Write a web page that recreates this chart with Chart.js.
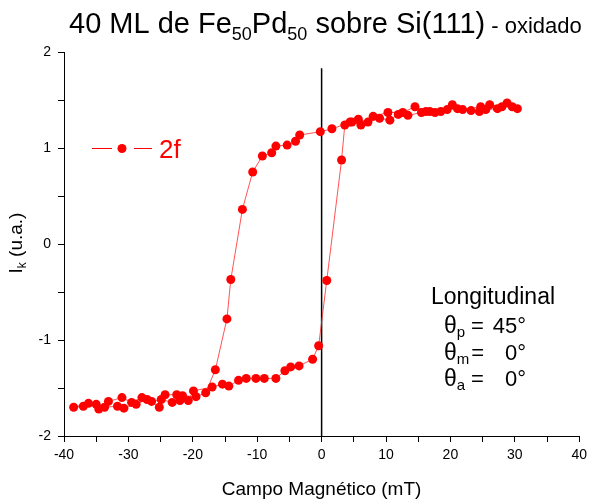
<!DOCTYPE html>
<html>
<head>
<meta charset="utf-8">
<script src="https://cdn.jsdelivr.net/npm/chart.js@4"></script>
<style>
html, body { margin: 0; padding: 0; background: #fff; }
</style>
</head>
<body>
<canvas id="kerrLoop" width="592" height="501"></canvas>
<script>
// ===== Data: MOKE loop, 40 ML Fe50Pd50 / Si(111) oxidado =====
// descending branch (+30 -> -38 mT)
const fieldDown = [30.4, 28.8, 27.3, 25.5, 24.5, 23.2, 21.1, 19.5, 17.6, 16.2, 14.5, 12.6, 10.3, 8.0, 6.1, 4.7, 1.6, -0.2,
    -3.4, -4.05, -5.35, -7.1, -7.75, -9.2, -10.7, -12.3, -14.1, -14.7, -16.5, -18.0, -19.5, -21.6, -22.5, -24.3,
    -25.2, -27.1, -28.8, -30.7, -31.7, -33.7, -35.0, -37.0, -38.5];
const kerrDown = [1.41, 1.47, 1.41, 1.40, 1.38, 1.39, 1.41, 1.40, 1.37, 1.38, 1.43, 1.37, 1.37, 1.33, 1.24, 1.27, 1.20, 1.17,
    1.135, 1.07, 1.03, 1.02, 0.95, 0.917, 0.75, 0.36, -0.37, -0.78, -1.31, -1.55, -1.59, -1.58, -1.57, -1.57,
    -1.70, -1.62, -1.67, -1.71, -1.69, -1.70, -1.67, -1.69, -1.70];
// ascending branch (-38 -> +30 mT)
const fieldUp = [-36.2, -34.6, -33.1, -31.0, -29.5, -27.9, -26.4, -24.9, -23.2, -22.0, -20.7, -19.9, -17.0, -15.4,
    -14.4, -12.9, -11.7, -10.2, -8.9, -7.1, -5.7, -4.8, -3.5, -1.4, -0.46, 0.8, 3.1, 3.6, 4.4, 5.7, 7.2, 9.0, 10.6,
    11.9, 13.4, 15.5, 16.8, 18.5, 20.3, 21.9, 24.7, 26.1, 28.0, 29.6];
const kerrUp = [-1.66, -1.72, -1.64, -1.60, -1.65, -1.60, -1.64, -1.62, -1.65, -1.63, -1.63, -1.53, -1.49, -1.46,
    -1.48, -1.42, -1.40, -1.40, -1.40, -1.40, -1.32, -1.28, -1.27, -1.20, -1.06, -0.38, 0.875, 1.24, 1.27, 1.30, 1.27, 1.31, 1.29,
    1.35, 1.34, 1.37, 1.38, 1.38, 1.45, 1.40, 1.43, 1.45, 1.43, 1.43];
// black vertical marker at H = 0
const zeroLineX = [0, 0];
const zeroLineY = [-2, 1.83];
// labelled (major) ticks
const xMajorTicks = [-40, -30, -20, -10, 0, 10, 20, 30, 40];
const yMajorTicks = [-2, -1, 0, 1, 2];

const RED = '#ff0000';
const FONT = '"Liberation Sans", Arial, sans-serif';

const loopPoints = fieldDown.map((x, i) => ({ x, y: kerrDown[i] }))
    .concat(fieldUp.map((x, i) => ({ x, y: kerrUp[i] })));
const zeroPoints = zeroLineX.map((x, i) => ({ x, y: zeroLineY[i] }));

// draws a run of text pieces, each with its own size and baseline shift
function drawRich(ctx, parts, x, y) {
    parts.forEach(p => {
        ctx.font = p.size + 'px ' + FONT;
        ctx.fillText(p.t, x, y + (p.dy || 0));
        x += ctx.measureText(p.t).width;
    });
    return x;
}

const textLayer = {
    id: 'textLayer',
    afterDraw(chart) {
        const ctx = chart.ctx;
        ctx.save();
        ctx.textAlign = 'left';
        ctx.textBaseline = 'alphabetic';

        // title
        ctx.fillStyle = '#000';
        drawRich(ctx, [
            { t: '40 ML de Fe', size: 29 }, { t: '50', size: 18, dy: 7 },
            { t: 'Pd', size: 29 }, { t: '50', size: 18, dy: 7 },
            { t: ' sobre Si(111)', size: 29 }, { t: ' - oxidado', size: 22 }
        ], 69, 33);

        // y axis title
        ctx.save();
        ctx.translate(22, 242);
        ctx.rotate(-Math.PI / 2);
        ctx.font = '19px ' + FONT;
        const w = ctx.measureText('I (u.a.)').width + 8;
        drawRich(ctx, [{ t: 'I', size: 19 }, { t: 'k', size: 12, dy: 4 }, { t: ' (u.a.)', size: 19 }], -w / 2, 0);
        ctx.restore();

        // legend
        ctx.strokeStyle = RED;
        ctx.lineWidth = 1;
        ctx.beginPath();
        ctx.moveTo(92, 148.5); ctx.lineTo(112, 148.5);
        ctx.moveTo(134, 148.5); ctx.lineTo(152, 148.5);
        ctx.stroke();
        ctx.fillStyle = RED;
        ctx.beginPath();
        ctx.arc(122, 148.5, 4.5, 0, Math.PI * 2);
        ctx.fill();
        ctx.font = '26px ' + FONT;
        ctx.fillText('2f', 159, 158);

        // measurement geometry
        ctx.fillStyle = '#000';
        ctx.font = '23px ' + FONT;
        ctx.fillText('Longitudinal', 431, 304);
        const rows = [['p', '45°', 333], ['m', '0°', 360], ['a', '0°', 386]];
        rows.forEach(([sub, val, by]) => {
            const end = drawRich(ctx, [{ t: 'θ', size: 23 }, { t: sub, size: 15, dy: 4 }], 444, by);
            ctx.font = '22px ' + FONT;
            ctx.fillText('=', Math.max(end + 2, 471), by);
            ctx.textAlign = 'right';
            ctx.fillText(val, 526, by);
            ctx.textAlign = 'left';
        });
        ctx.restore();
    }
};

new Chart(document.getElementById('kerrLoop'), {
    type: 'scatter',
    data: {
        datasets: [{
            label: '2f',
            data: loopPoints,
            showLine: true,
            borderColor: 'rgba(255,40,40,0.8)',
            borderWidth: 1,
            pointRadius: 4.5,
            pointBackgroundColor: RED,
            pointBorderWidth: 0
        }, {
            label: 'H = 0',
            data: zeroPoints,
            showLine: true,
            borderColor: '#000',
            borderWidth: 1.5,
            pointRadius: 0
        }]
    },
    options: {
        responsive: false,
        animation: false,
        layout: { padding: { top: 52, right: 9, left: 0, bottom: 0 } },
        plugins: { legend: { display: false }, tooltip: { enabled: false }, title: { display: false } },
        scales: {
            x: {
                type: 'linear', min: -40, max: 40,
                border: { color: '#000', width: 1 },
                grid: { drawOnChartArea: false, drawTicks: true, tickLength: 6, tickColor: '#000' },
                ticks: {
                    stepSize: 5, autoSkip: false, maxRotation: 0, color: '#000', padding: 5,
                    font: { family: FONT, size: 14 },
                    callback: v => xMajorTicks.includes(v) ? String(v) : ''
                },
                title: {
                    display: true, text: 'Campo Magnético (mT)', color: '#000',
                    font: { family: FONT, size: 19 }, padding: { top: 7, bottom: 0 }
                },
                afterFit: s => { s.height = 65; }
            },
            y: {
                type: 'linear', min: -2, max: 2,
                border: { color: '#000', width: 1 },
                grid: { drawOnChartArea: false, drawTicks: true, tickLength: 6, tickColor: '#000' },
                ticks: {
                    stepSize: 0.5, autoSkip: false, color: '#000', padding: 7,
                    font: { family: FONT, size: 14 },
                    callback: v => yMajorTicks.includes(v) ? String(v) : ''
                },
                afterFit: s => { s.width = 64; }
            }
        }
    },
    plugins: [textLayer]
});
</script>
</body>
</html>
